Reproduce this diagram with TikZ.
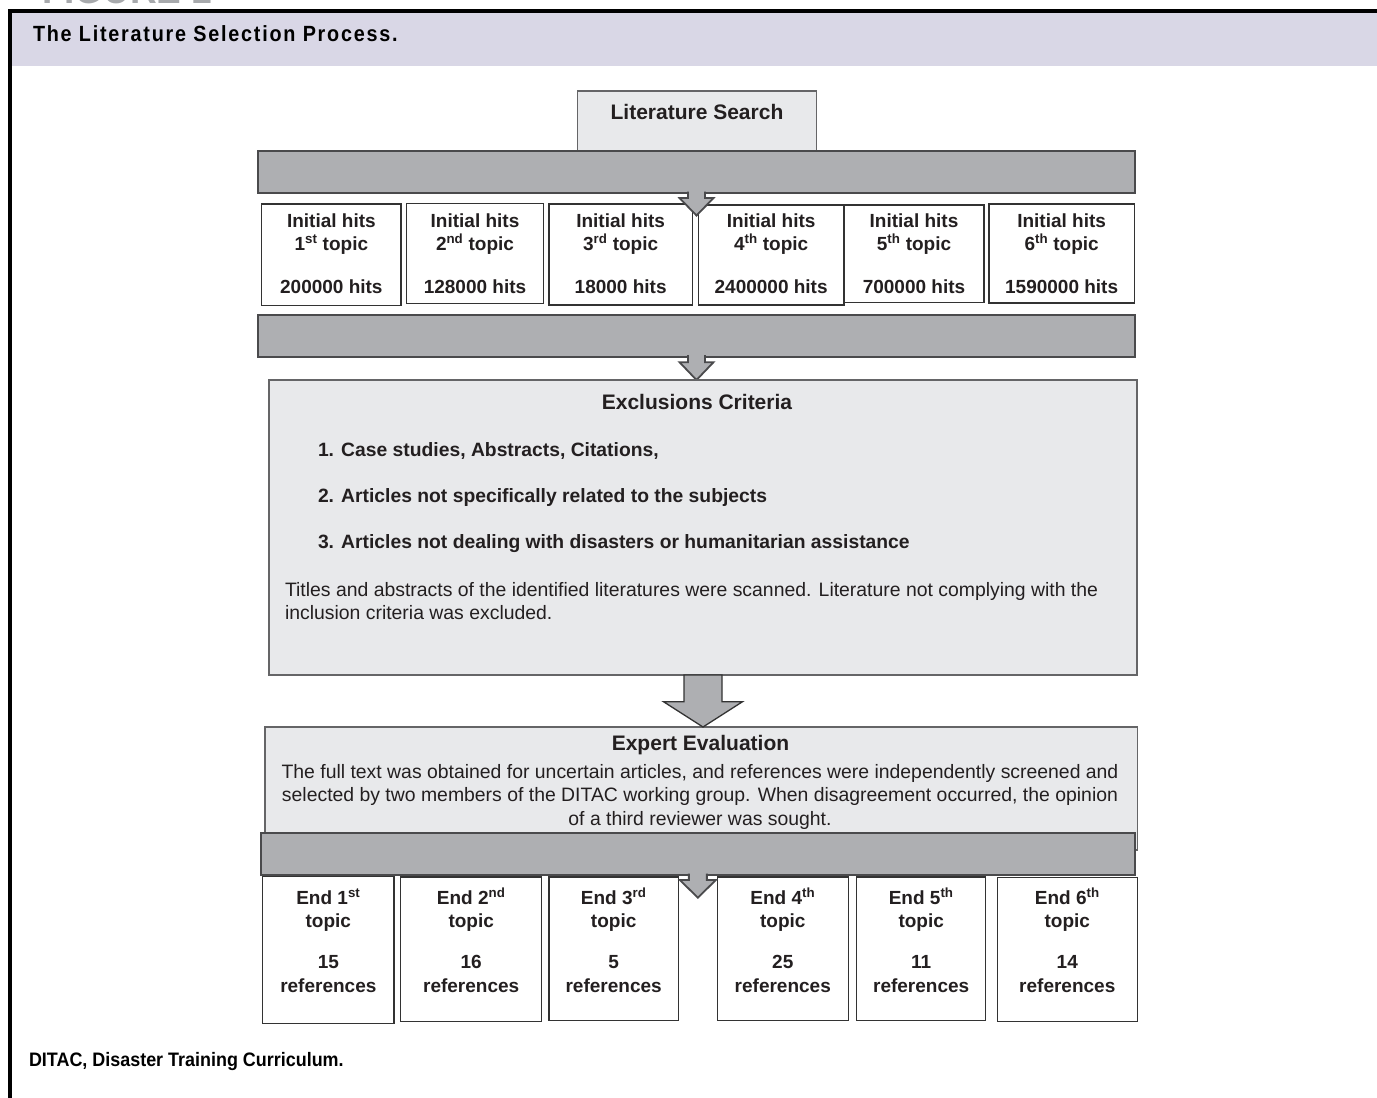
\documentclass[tikz,border=0pt]{standalone}
\usepackage{fontspec}
\setmainfont{Liberation Sans}
\newfontfamily\condfont[FakeStretch=0.92]{Liberation Sans}
\newfontfamily\titlefont[FakeStretch=0.9,LetterSpace=8]{Liberation Sans}
\newfontfamily\figfont[FakeStretch=0.88]{Liberation Sans}
\usetikzlibrary{calc}
\definecolor{band}{HTML}{D9D7E6}
\definecolor{lightbox}{HTML}{E8E9EB}
\definecolor{barfill}{HTML}{AEAFB2}
\definecolor{barline}{HTML}{4A4A4C}
\definecolor{boxline}{HTML}{333333}
\definecolor{ink}{HTML}{231F20}
\definecolor{figgrey}{HTML}{A7A9AC}
\newcommand\fsz[1]{\fontsize{#1}{#1}\selectfont}
\begin{document}
\begin{tikzpicture}[x=1pt,y=-1pt,
  every node/.style={inner sep=0pt,outer sep=0pt,text=ink},
  whitebox/.style={draw=boxline,fill=white,line width=1.3pt},
  greybox/.style={draw=barline!85,fill=lightbox,line width=1.3pt},
  barbox/.style={draw=barline,fill=barfill,line width=1.8pt},
  arrowshape/.style={draw=barline,fill=barfill,line width=1.8pt,line join=miter},
  boxtxt/.style={font=\fsz{19}\bfseries},
  itemtxt/.style={font=\fsz{19.3}\bfseries},
  hdrtxt/.style={font=\fsz{21}\bfseries},
  bodytxt/.style={font=\fsz{19.4}},
  captxt/.style={font=\titlefont\bfseries\fsz{22},text=black}]
\useasboundingbox (0,0) rectangle (1377,1098);
% partially visible figure label
\begin{scope}
\clip (0,0) rectangle (1377,9);
\node[anchor=base west,font=\figfont\bfseries\fsz{42},text=figgrey] (figlabel) at (42,3.3) {FIGURE 1};
\end{scope}
% header band and frame
\fill[band] (12,12.7) rectangle (1377,65.7);
\draw[line width=3.8pt,black] (10,1098) -- (10,10.8) -- (1377,10.8);
\node[captxt,anchor=base west] (title) at (33,41) {The Literature Selection Process.};
\node[font=\condfont\bfseries\fsz{19.5},text=black,anchor=base west] (foot) at (29,1066.7) {DITAC, Disaster Training Curriculum.};

% Literature search
\node[greybox,minimum width=239pt,minimum height=60pt] (lit) at (697.2,121) {};
\node[hdrtxt,anchor=base] (littxt) at (697,119.3) {Literature Search};

% initial hits boxes
\foreach \i/\cx/\cy/\w/\h/\ord/\num in {
  1/331.35/254.85/139.3/101.7/st/200000,
  2/475/253.3/136.6/100/nd/128000,
  3/620.65/254.5/143.3/101/rd/18000,
  4/771.15/255/145.7/100/th/2400000,
  5/914/253.85/140/97.7/th/700000,
  6/1061.65/253.5/145.3/99/th/1590000}{
  \node[whitebox,minimum width=\w pt,minimum height=\h pt] (h\i) at (\cx,\cy) {};
  \node[boxtxt,anchor=base] (h\i-a) at (\cx,227.3) {Initial hits};
  \node[boxtxt,anchor=base] (h\i-b) at (\cx,250) {\i\textsuperscript{\ord} topic};
  \node[boxtxt,anchor=base] (h\i-c) at (\cx,293.3) {\num\ hits};
}

% bar 1 with arrow
\node[barbox,minimum width=877pt,minimum height=42pt] (bar1) at (696.5,172) {};
\draw[arrowshape] ($(bar1.south)+(-8.5,-1.5)$) -- ++(0,6.5) -- ++(-8.5,0) -- ($(bar1.south)+(0,22.5)$)
  -- ($(bar1.south)+(17,5)$) -- ++(-8.5,0) -- ++(0,-6.5);

% bar 2 with arrow
\node[barbox,minimum width=877pt,minimum height=41.7pt] (bar2) at (696.5,335.85) {};
\draw[arrowshape] ($(bar2.south)+(-8.5,-1.5)$) -- ++(0,7) -- ++(-8.5,0) -- ($(bar2.south)+(0,23.3)$)
  -- ($(bar2.south)+(17,5.5)$) -- ++(-8.5,0) -- ++(0,-7);

% exclusions box
\node[greybox,minimum width=868pt,minimum height=295pt] (excl) at (703,527.5) {};
\node[hdrtxt,anchor=base] (excltitle) at (697,409.3) {Exclusions Criteria};
\node[itemtxt,anchor=base west] (ex1) at (318,456.7) {1. Case studies, Abstracts, Citations,};
\node[itemtxt,anchor=base west] (ex2) at (318,502.7) {2. Articles not specifically related to the subjects};
\node[itemtxt,anchor=base west] (ex3) at (318,548.7) {3. Articles not dealing with disasters or humanitarian assistance};
\node[bodytxt,anchor=base west] (exb1) at (285,596.5) {Titles and abstracts of the identified literatures were scanned. Literature not complying with the};
\node[bodytxt,anchor=base west] (exb2) at (285,619.5) {inclusion criteria was excluded.};

% expert evaluation box
\node[greybox,minimum width=872.3pt,minimum height=123pt] (expert) at (701.15,788.5) {};
\node[hdrtxt,anchor=base] (exptitle) at (700.5,750.7) {Expert Evaluation};
\node[bodytxt,anchor=base] (expb1) at (700,778.3) {The full text was obtained for uncertain articles, and references were independently screened and};
\node[bodytxt,anchor=base] (expb2) at (700,801.5) {selected by two members of the DITAC working group. When disagreement occurred, the opinion};
\node[bodytxt,anchor=base] (expb3) at (700,825) {of a third reviewer was sought.};

% big arrow between exclusions and expert evaluation
\draw[draw=boxline,fill=barfill,line width=1.3pt,line join=miter]
  ($(excl.south)+(-19,0)$) -- ++(0,26.7) -- ++(-20.5,0) -- (expert.north -| excl.south)
  -- ($(excl.south)+(39.5,26.7)$) -- ++(-20.5,0) -- ++(0,-26.7) -- cycle;

% bar 3 with arrow
\node[barbox,minimum width=874.3pt,minimum height=42.3pt] (bar3) at (697.85,853.85) {};

% end boxes
\foreach \i/\cx/\cy/\w/\h/\ord/\num in {
  1/328.35/950/131.3/146.6/st/15,
  2/471.2/949.35/141/144.7/nd/16,
  3/613.65/948.85/129.3/143.7/rd/5,
  4/782.8/948.85/131/143.7/th/25,
  5/921.2/948.85/129/143.7/th/11,
  6/1067.3/949.7/140/144/th/14}{
  \node[whitebox,minimum width=\w pt,minimum height=\h pt] (e\i) at (\cx,\cy) {};
  \node[boxtxt,anchor=base] (e\i-a) at (\cx,904) {End \i\textsuperscript{\ord}};
  \node[boxtxt,anchor=base] (e\i-b) at (\cx,927.7) {topic};
  \node[boxtxt,anchor=base] (e\i-c) at (\cx,968.3) {\num};
  \node[boxtxt,anchor=base] (e\i-d) at (\cx,992.3) {references};
}
\draw[arrowshape] ($(bar3.south)+(-9,-1.5)$) -- ++(0,6.5) -- ++(-9,0) -- ($(bar3.south)+(0,22.7)$)
  -- ($(bar3.south)+(18,5)$) -- ++(-9,0) -- ++(0,-6.5);
\end{tikzpicture}
\end{document}
